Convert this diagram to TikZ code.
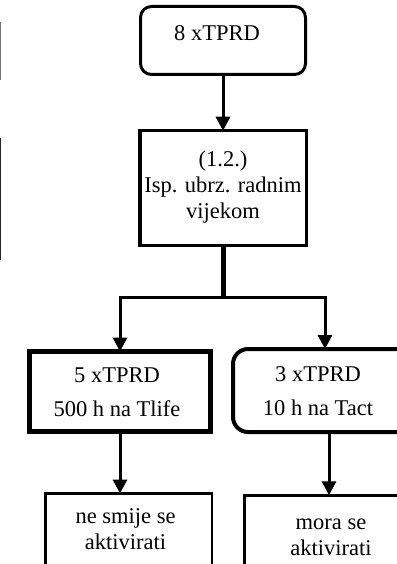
\documentclass[tikz,border=0pt]{standalone}
\usepackage{fontspec}
\setmainfont{Liberation Serif}
\usetikzlibrary{arrows.meta}
\begin{document}
\begin{tikzpicture}[x=1pt,y=-1pt,
  box/.style={draw=black, fill=none, inner sep=0pt, outer sep=0pt},
  lbl/.style={align=center, inner sep=0pt, font=\fontsize{22.5}{26}\selectfont},
  lblwide/.style={align=center, inner sep=0pt, font=\fontsize{22.5}{34}\selectfont},
  arr/.style={line width=3pt, -{Triangle[length=14pt,width=14pt]}},
  conn/.style={line width=3pt}]
\useasboundingbox (0,0) rectangle (396,564);
% fragments of neighbouring boxes at the left edge
\coordinate (fa1) at (0,22); \coordinate (fa2) at (0,80);
\coordinate (fb1) at (0,138); \coordinate (fb2) at (0,260);
\draw[line width=2pt, black!55] (fa1) -- (fa2);
\draw[line width=2.4pt, black!85] (fb1) -- (fb2);
% boxes
\node[box, line width=3pt, rounded corners=11pt, minimum width=165pt, minimum height=68pt] (top) at (223,40.5) {};
\node[box, line width=3.5pt, minimum width=166.5pt, minimum height=114.5pt] (mid) at (223,188) {};
\node[box, line width=5pt, minimum width=181pt, minimum height=80pt] (left) at (120,391.5) {};
\node[box, line width=4pt, rounded corners=15pt, minimum width=184pt, minimum height=83pt] (right) at (325,390.5) {};
\node[box, line width=2.5pt, minimum width=166.5pt, minimum height=85pt] (lres) at (128.5,536) {};
\node[box, line width=2.5pt, minimum width=169.5pt, minimum height=83.5pt] (rres) at (329,537) {};
% texts
\node[lbl, anchor=base] (ttop) at (217,41) {8 xTPRD};
\node[lbl] (tmid) at (223,187) {(1.2.)\\Isp. ubrz. radnim\\vijekom};
\node[lblwide] (tleft) at (117,392) {5 xTPRD\\500 h na Tlife};
\node[lblwide] (tright) at (318,391.5) {3 xTPRD\\10 h na Tact};
\node[lbl] (tlres) at (125.5,529.5) {ne smije se\\aktivirati};
\node[lbl] (trres) at (331,537) {mora se\\aktivirati};
% connectors
\draw[arr] (top.south) -- (mid.north);
\coordinate (split) at (223,297);
\coordinate (splitl) at (120,297);
\coordinate (splitr) at (325,297);
\draw[line width=5pt] (mid.south) -- (split);
\draw[conn, line cap=rect] (splitl) -- (splitr);
\draw[arr] (splitl) -- (left.north);
\draw[arr] (splitr) -- (right.north);
\draw[arr] (left.south) -- (left.south |- lres.north);
\draw[arr] (rres.north |- right.south) -- (rres.north);
\end{tikzpicture}
\end{document}
